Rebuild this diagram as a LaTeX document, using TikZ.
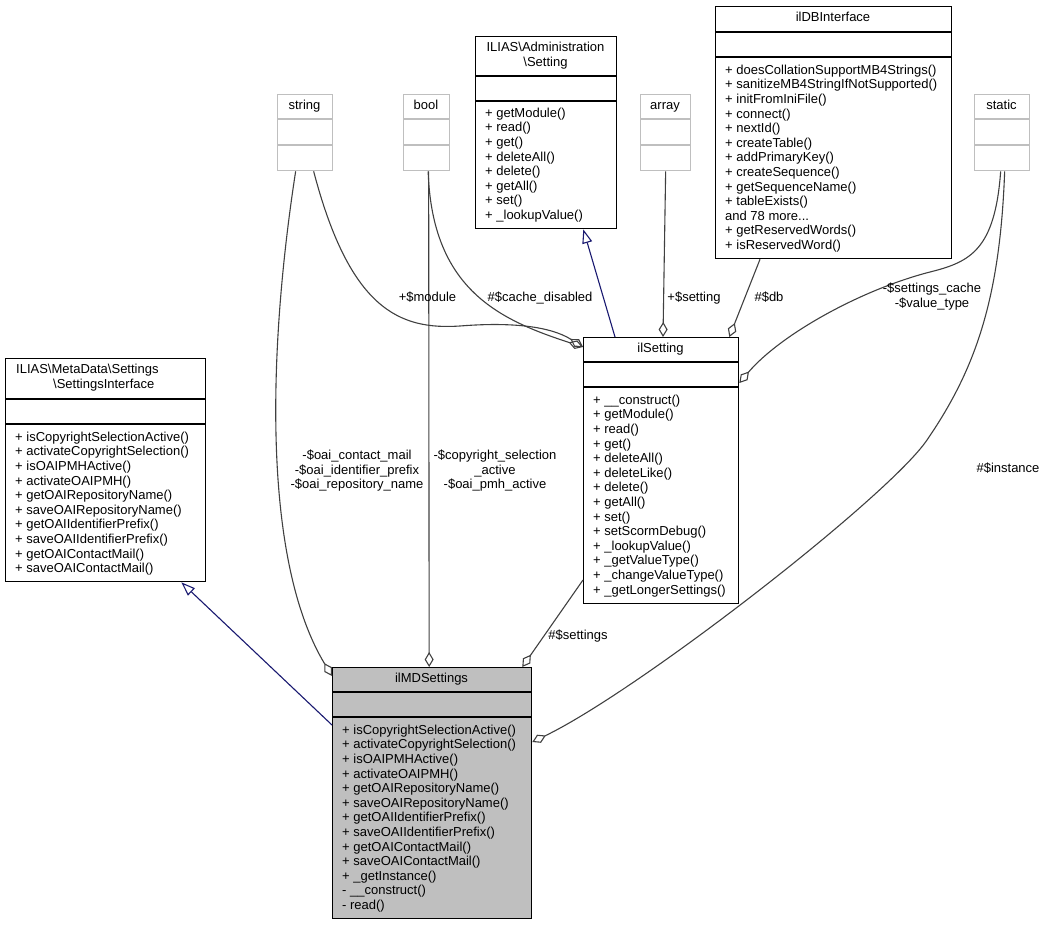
\documentclass[tikz,border=0pt]{standalone}
\usepackage{fontspec}
\setmainfont{Liberation Sans}
\usepackage{tikz}
\usetikzlibrary{arrows.meta, positioning}
\definecolor{Dox_Edge}{HTML}{404040}
\definecolor{Dox_Blue}{HTML}{191970}
\definecolor{Dox_Grey}{HTML}{BFBFBF}

\begin{document}
\begin{tikzpicture}[x=1pt, y=-1pt,
    every node/.style={font=\fontsize{13}{14.6}\selectfont, inner sep=0pt},
    cls/.style={draw, line width=1.3pt, fill=white, anchor=north west},
    prim/.style={cls, draw=Dox_Grey, minimum height=76pt},
    cname/.style={anchor=base},
    members/.style={anchor=north west, align=left},
    lbl/.style={align=center},
    agg/.style={Dox_Edge, line width=1.1pt, -{Diamond[open, length=15pt, width=9pt]}},
    inherit/.style={Dox_Blue, line width=1.1pt, -{Triangle[open, length=14pt, width=10pt]}}]

    \useasboundingbox (0,0) rectangle (1046,925);

    % Classes
    \node[cls, minimum width=200pt, minimum height=223pt] (iface) at (5,358) {};
    \draw[line width=1.3pt] (5,399) -- (205,399) (5,424) -- (205,424);
    \node[members] (ifaceName) at (16,364.2) {ILIAS\textbackslash MetaData\textbackslash Settings\\\hspace*{37pt}\textbackslash SettingsInterface};
    \node[members] (ifaceOps) at (15,431.7) {+ isCopyrightSelectionActive()\\+ activateCopyrightSelection()\\+ isOAIPMHActive()\\+ activateOAIPMH()\\+ getOAIRepositoryName()\\+ saveOAIRepositoryName()\\+ getOAIIdentifierPrefix()\\+ saveOAIIdentifierPrefix()\\+ getOAIContactMail()\\+ saveOAIContactMail()};

    \node[cls, minimum width=141pt, minimum height=192pt] (admin) at (475,36) {};
    \draw[line width=1.3pt] (475,76) -- (616,76) (475,101) -- (616,101);
    \node[lbl, anchor=north] (adminName) at (545.5,42.2) {ILIAS\textbackslash Administration\\\textbackslash Setting};
    \node[members] (adminOps) at (485,107.7) {+ getModule()\\+ read()\\+ get()\\+ deleteAll()\\+ delete()\\+ getAll()\\+ set()\\+ \_lookupValue()};

    \node[cls, minimum width=236pt, minimum height=252pt] (ildb) at (715,6) {};
    \draw[line width=1.3pt] (715,32) -- (951,32) (715,57) -- (951,57);
    \node[cname] (ildbName) at (833,21.5) {ilDBInterface};
    \node[members] (ildbOps) at (725,64.7) {+ doesCollationSupportMB4Strings()\\+ sanitizeMB4StringIfNotSupported()\\+ initFromIniFile()\\+ connect()\\+ nextId()\\+ createTable()\\+ addPrimaryKey()\\+ createSequence()\\+ getSequenceName()\\+ tableExists()\\and 78 more...\\+ getReservedWords()\\+ isReservedWord()};

    \node[cls, minimum width=155pt, minimum height=266pt] (ilsetting) at (583,337) {};
    \draw[line width=1.3pt] (583,362) -- (738,362) (583,387) -- (738,387);
    \node[cname] (ilsettingName) at (660.5,352.5) {ilSetting};
    \node[members] (ilsettingOps) at (593,394.7) {+ \_\_construct()\\+ getModule()\\+ read()\\+ get()\\+ deleteAll()\\+ deleteLike()\\+ delete()\\+ getAll()\\+ set()\\+ setScormDebug()\\+ \_lookupValue()\\+ \_getValueType()\\+ \_changeValueType()\\+ \_getLongerSettings()};

    \node[cls, fill=Dox_Grey, minimum width=199pt, minimum height=251pt] (ilmd) at (332,667) {};
    \draw[line width=1.3pt] (332,692) -- (531,692) (332,717) -- (531,717);
    \node[cname] (ilmdName) at (431.5,682.5) {ilMDSettings};
    \node[members] (ilmdOps) at (342,724.7) {+ isCopyrightSelectionActive()\\+ activateCopyrightSelection()\\+ isOAIPMHActive()\\+ activateOAIPMH()\\+ getOAIRepositoryName()\\+ saveOAIRepositoryName()\\+ getOAIIdentifierPrefix()\\+ saveOAIIdentifierPrefix()\\+ getOAIContactMail()\\+ saveOAIContactMail()\\+ \_getInstance()\\- \_\_construct()\\- read()};

    % Built-in types
    \node[prim, minimum width=55pt] (strT) at (277,94) {};
    \draw[line width=1.3pt, Dox_Grey] (277,119) -- (332,119) (277,145) -- (332,145);
    \node[cname] (strName) at (304.5,109.5) {string};

    \node[prim, minimum width=46pt] (boolT) at (403,94) {};
    \draw[line width=1.3pt, Dox_Grey] (403,119) -- (449,119) (403,145) -- (449,145);
    \node[cname] (boolName) at (426,109.5) {bool};

    \node[prim, minimum width=50pt] (arrayT) at (640,94) {};
    \draw[line width=1.3pt, Dox_Grey] (640,119) -- (690,119) (640,145) -- (690,145);
    \node[cname] (arrayName) at (665,109.5) {array};

    \node[prim, minimum width=55pt] (staticT) at (974,94) {};
    \draw[line width=1.3pt, Dox_Grey] (974,119) -- (1029,119) (974,145) -- (1029,145);
    \node[cname] (staticName) at (1001.5,109.5) {static};

    % Inheritance
    \draw[inherit] ([yshift=-58pt]ilmd.north west) -- ([xshift=-25pt]iface.south east);
    \draw[inherit] ([xshift=32pt]ilsetting.north west) -- ([xshift=-34pt]admin.south east);

    % Members of ilMDSettings
    \draw[agg] ([xshift=-9.5pt]strT.south) .. controls (268,350) and (262,560) .. ([yshift=-9pt]ilmd.north west);
    \draw[agg] ([xshift=2pt]boolT.south) -- ([xshift=-3pt]ilmd.north);
    \draw[agg] ([yshift=-243pt]ilsetting.north west) -- ([xshift=-10pt]ilmd.north east);
    \draw[agg] ([xshift=2.5pt]staticT.south) .. controls (1000,300) and (975,370) .. (927,440)
        .. controls (889,496) and (640,690) .. ([yshift=-75pt]ilmd.north east);

    % Members of ilSetting
    \draw[agg] ([xshift=8.5pt]strT.south) .. controls (350,310) and (400,330) .. (460,326)
        .. controls (510,322) and (550,326) .. ([yshift=-10pt]ilsetting.north west);
    \draw[agg] ([xshift=1.5pt]boolT.south) .. controls (432,290) and (500,320) .. ([yshift=-10pt]ilsetting.north west);
    \draw[agg] (arrayT.south) -- ([xshift=80pt]ilsetting.north west);
    \draw[agg] ([xshift=45pt]ildb.south west) -- ([xshift=-10pt]ilsetting.north east);
    \draw[agg] ([xshift=-1.5pt]staticT.south) .. controls (995,250) and (970,262) .. (930,272)
        .. controls (860,290) and (780,335) .. ([yshift=-46pt]ilsetting.north east);

    % Edge labels
    \node[lbl] (lblOai) at (357,470.8) {-\$oai\_contact\_mail\\-\$oai\_identifier\_prefix\\-\$oai\_repository\_name};
    \node[lbl] (lblFlags) at (495,470.8) {-\$copyright\_selection\\\_active\\-\$oai\_pmh\_active};
    \node[cname] (lblModule) at (427.5,301.5) {+\$module};
    \node[cname] (lblCache) at (540,301.5) {\#\$cache\_disabled};
    \node[cname] (lblSetting) at (694,301.5) {+\$setting};
    \node[cname] (lblDb) at (769,301.5) {\#\$db};
    \node[lbl] (lblCacheType) at (932,296.5) {-\$settings\_cache\\-\$value\_type};
    \node[cname] (lblSettings) at (578,639.5) {\#\$settings};
    \node[cname] (lblInstance) at (1008,472.5) {\#\$instance};
\end{tikzpicture}
\end{document}
